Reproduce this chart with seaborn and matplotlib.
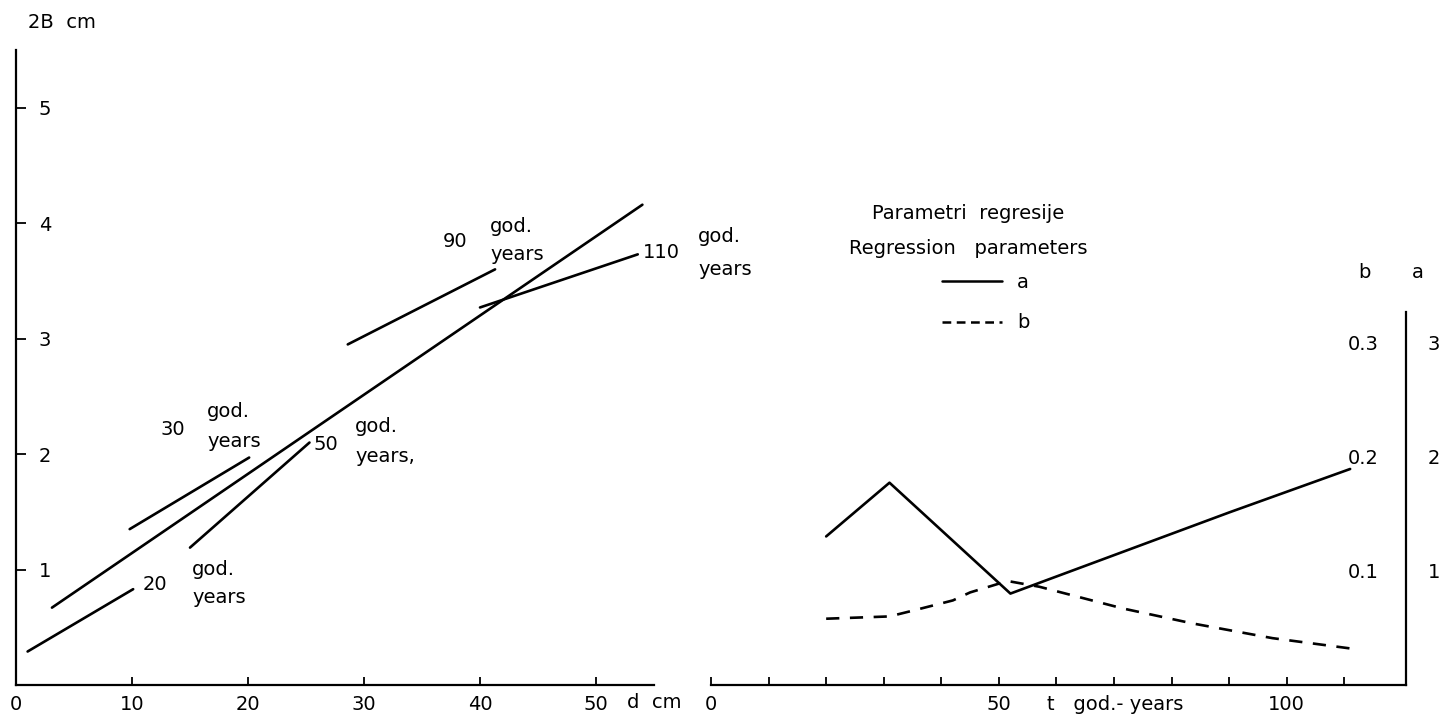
import numpy as np
import pandas as pd
import matplotlib
matplotlib.use("Agg")
import matplotlib.pyplot as plt
from matplotlib.lines import Line2D
import seaborn as sns

sns.set_theme(style="white")
plt.rcParams["font.family"] = ["DejaVu Sans"]
plt.rcParams["text.color"] = "black"
plt.rcParams["xtick.color"] = "black"
plt.rcParams["ytick.color"] = "black"
plt.rcParams["axes.labelcolor"] = "black"
FS = 14

# ---------------- data: left panel (2B vs d, by stand age) ----------------
age_labels = ["20", "30", "50", "90", "110"]
seg_d_start = [1.0, 9.8, 15.0, 28.6, 40.0]
seg_d_end = [10.1, 20.1, 25.3, 41.3, 53.6]
seg_v_start = [0.29, 1.35, 1.19, 2.95, 3.27]
seg_v_end = [0.83, 1.97, 2.10, 3.60, 3.73]
overall_d = [3.1, 54.0]
overall_v = [0.67, 4.16]

left_xticks = [0, 10, 20, 30, 40, 50]
left_yticks = [1, 2, 3, 4, 5]

# ---------------- data: right panel (regression parameters vs age) --------
a_t = [20, 31, 52, 90, 111]
a_vals = [1.30, 1.77, 0.80, 1.51, 1.89]
b_t = [20, 31, 35, 42, 45, 51.5, 57, 71.5, 83.5, 97.5, 111]
b_vals = [0.058, 0.060, 0.065, 0.074, 0.081, 0.091, 0.086, 0.067, 0.054, 0.041, 0.032]

right_xticks = list(range(0, 111, 10))
right_xticklabels = ["0", "", "", "", "", "50", "", "", "", "", "100", ""]
a_ticks = [1, 2, 3]
b_ticks = [0.1, 0.2, 0.3]
b_ticklabels = ["0.1", "0.2", "0.3"]

W, H = 1444, 723
def fx(px):
    return px / W
def fy(py):
    return 1 - py / H

fig = plt.figure(figsize=(W / 100, H / 100), dpi=100)
fig.patch.set_facecolor("white")

bottom = fy(685)
height = 635 / H

# ---------------- left panel ----------------
ax1 = fig.add_axes([fx(16), bottom, (654 - 16) / W, height])
rows = []
for lab, d0, d1, v0, v1 in zip(age_labels, seg_d_start, seg_d_end, seg_v_start, seg_v_end):
    rows.append({"group": lab, "d": d0, "v": v0})
    rows.append({"group": lab, "d": d1, "v": v1})
rows.append({"group": "all", "d": overall_d[0], "v": overall_v[0]})
rows.append({"group": "all", "d": overall_d[1], "v": overall_v[1]})
df_left = pd.DataFrame(rows)
sns.lineplot(data=df_left, x="d", y="v", units="group", estimator=None,
             color="black", lw=1.9, sort=False, ax=ax1)
ax1.set_xlim(0, 55)
ax1.set_ylim(0, 5.5)
ax1.set_xlabel("")
ax1.set_ylabel("")
for s in ["top", "right"]:
    ax1.spines[s].set_visible(False)
for s in ["left", "bottom"]:
    ax1.spines[s].set_color("black")
    ax1.spines[s].set_linewidth(1.6)
ax1.set_xticks(left_xticks, labels=[str(v) for v in left_xticks])
ax1.set_yticks(left_yticks, labels=[str(v) for v in left_yticks])
ax1.tick_params(axis="x", direction="in", length=6, width=1.3, color="black",
                pad=7, labelsize=FS, bottom=True)
ax1.tick_params(axis="y", direction="in", length=7, width=1.3, color="black",
                pad=-16.5, labelsize=FS, left=True)
for lbl in ax1.get_yticklabels():
    lbl.set_ha("left")
ax1.grid(False)

def lt(txt, px, py, ha="left"):
    ax1.text((px - 16) / 11.6, (685 - py) / 115.45, txt, fontsize=FS,
             ha=ha, va="center", clip_on=False)

lt("20", 155, 585, "center")
lt("god.", 192, 570); lt("years", 192, 598)
lt("30", 173, 430, "center")
lt("god.", 207, 412); lt("years", 207, 442)
lt("50", 326, 445, "center")
lt("god.", 355, 427); lt("years,", 355, 457)
lt("90", 455, 242, "center")
lt("god.", 490, 227); lt("years", 490, 255)
lt("110", 661, 253, "center")
lt("god.", 698, 237); lt("years", 698, 270)

fig.text(fx(28), fy(22), "2B  cm", fontsize=FS, ha="left", va="center")
fig.text(fx(627), fy(703), "d  cm", fontsize=FS, ha="left", va="center")

# ---------------- right panel ----------------
ax2 = fig.add_axes([fx(711), bottom, (1406 - 711) / W, height])
ax2.set_facecolor("none")
sns.lineplot(x=a_t, y=a_vals, color="black", lw=1.9, sort=False, ax=ax2)
ax2.set_xlim(0, 120.7)
ax2.set_ylim(0, 5.556)

bx = ax2.twinx()
bx.set_ylim(0, 0.5556)
sns.lineplot(x=b_t, y=b_vals, color="black", lw=1.9, sort=False, ax=bx,
             linestyle=(0, (5.0, 4.0)))
for s in bx.spines.values():
    s.set_visible(False)
bx.yaxis.tick_right()
bx.set_yticks(b_ticks, labels=b_ticklabels)
bx.tick_params(axis="y", length=0, pad=-20, labelsize=FS)
for lbl in bx.get_yticklabels():
    lbl.set_ha("right")
bx.grid(False)

ax2.spines["top"].set_visible(False)
ax2.spines["left"].set_visible(False)
ax2.spines["right"].set_visible(True)
ax2.spines["right"].set_bounds(0, 3.26)
for s in ["right", "bottom"]:
    ax2.spines[s].set_color("black")
    ax2.spines[s].set_linewidth(1.6)
ax2.set_xticks(right_xticks, labels=right_xticklabels)
ax2.tick_params(axis="x", direction="in", length=6, width=1.3, color="black",
                pad=7, labelsize=FS, bottom=True)
ax2.yaxis.tick_right()
ax2.set_yticks(a_ticks, labels=[str(v) for v in a_ticks])
ax2.tick_params(axis="y", length=0, pad=15.8, labelsize=FS, left=False,
                labelleft=False, right=True, labelright=True)
ax2.grid(False)

fig.text(fx(1364), fy(272), "b", fontsize=FS, ha="center", va="center")
fig.text(fx(1418), fy(272), "a", fontsize=FS, ha="center", va="center")
fig.text(fx(1047), fy(705), "t   god.- years", fontsize=FS, ha="left", va="center")

fig.text(fx(968), fy(213), "Parametri  regresije", fontsize=FS, ha="center", va="center")
fig.text(fx(968), fy(248), "Regression   parameters", fontsize=FS, ha="center", va="center")

handles = [Line2D([], [], color="black", lw=1.8),
           Line2D([], [], color="black", lw=1.8, linestyle=(0, (3.5, 2.2)))]
leg = bx.legend(handles, ["a", "b"], loc="upper left",
                bbox_to_anchor=(fx(942), fy(273)), bbox_transform=fig.transFigure,
                frameon=False, fontsize=FS, handlelength=3.1, handletextpad=0.75,
                labelspacing=1.1, borderpad=0, borderaxespad=0)

fig.savefig("out.png", dpi=100, facecolor="white")
